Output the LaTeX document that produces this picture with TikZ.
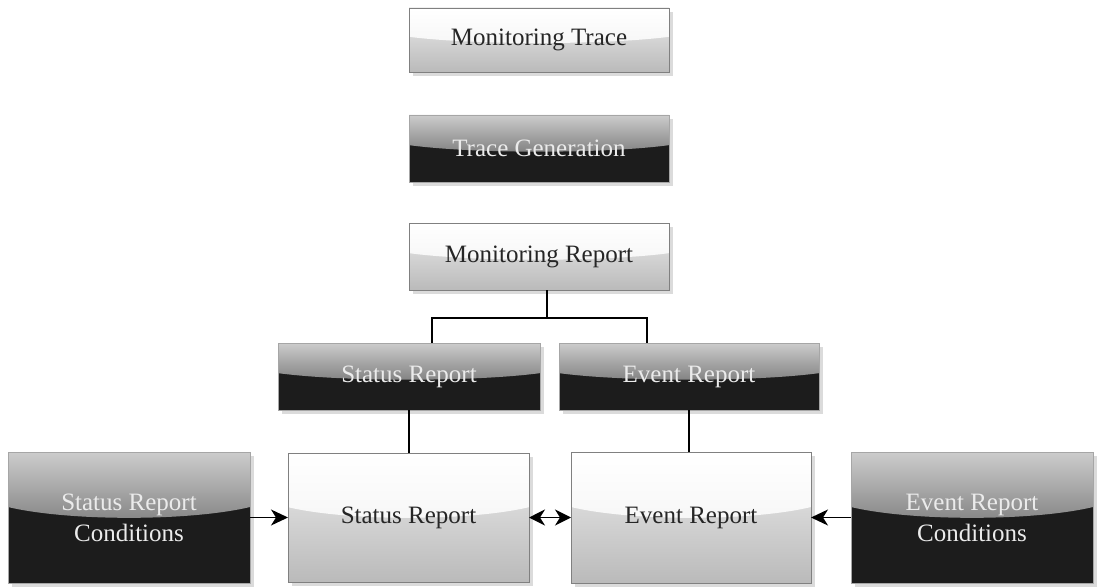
\documentclass[tikz,border=0pt]{standalone}
\usepackage{fontspec}
\setmainfont{Liberation Serif}
\usetikzlibrary{shadows,calc,arrows.meta}
\begin{document}
\begin{tikzpicture}[x=1pt,y=-1pt,
  box/.style={rectangle, inner sep=2pt, outer sep=0pt, line width=0.8pt, align=center,
    font=\fontsize{25}{31}\selectfont,
    drop shadow={shadow xshift=4pt, shadow yshift=-4pt, fill=black!14, opacity=1}},
  lightbox/.style 2 args={box, draw=black!50, text=black!85, top color=black!7, bottom color=black!27,
    path picture={\shade[top color=white, bottom color=black!6]
      (path picture bounding box.north west) -- (path picture bounding box.north east)
      -- ($(path picture bounding box.north east)!#1!(path picture bounding box.south east)$)
      .. controls ($($(path picture bounding box.north east)!#2!(path picture bounding box.south east)$)!0.25!($(path picture bounding box.north west)!#2!(path picture bounding box.south west)$)$)
      and ($($(path picture bounding box.north east)!#2!(path picture bounding box.south east)$)!0.75!($(path picture bounding box.north west)!#2!(path picture bounding box.south west)$)$)
      .. ($(path picture bounding box.north west)!#1!(path picture bounding box.south west)$) -- cycle;}},
  darkbox/.style 2 args={box, draw=black!35, text=black!8, fill=black!89,
    path picture={\shade[top color=black!20, bottom color=black!72]
      (path picture bounding box.north west) -- (path picture bounding box.north east)
      -- ($(path picture bounding box.north east)!#1!(path picture bounding box.south east)$)
      .. controls ($($(path picture bounding box.north east)!#2!(path picture bounding box.south east)$)!0.25!($(path picture bounding box.north west)!#2!(path picture bounding box.south west)$)$)
      and ($($(path picture bounding box.north east)!#2!(path picture bounding box.south east)$)!0.75!($(path picture bounding box.north west)!#2!(path picture bounding box.south west)$)$)
      .. ($(path picture bounding box.north west)!#1!(path picture bounding box.south west)$) -- cycle;}},
  conn/.style={line width=1.2pt, draw=black},
  arr/.style={line width=1.5pt, draw=black, -{Stealth[length=17pt,width=16pt,inset=5pt]}},
  darr/.style={line width=1.5pt, draw=black, {Stealth[length=16pt,width=16pt,inset=5pt]}-{Stealth[length=16pt,width=16pt,inset=5pt]}}
]
\useasboundingbox (0,0) rectangle (1097,588);

\node[lightbox={0.45}{0.58}, minimum width=260pt, minimum height=64pt] (MT) at (539,40) {Monitoring Trace};
\node[darkbox={0.45}{0.58}, minimum width=260pt, minimum height=67pt] (TG) at (539,148.5) {Trace Generation};
\node[lightbox={0.45}{0.58}, minimum width=260pt, minimum height=67pt] (MR) at (539,256.5) {Monitoring Report};

\node[darkbox={0.45}{0.58}, minimum width=262pt, minimum height=67pt] (SR) at (409,376.5) {Status Report};
\node[darkbox={0.45}{0.58}, minimum width=260pt, minimum height=67pt] (ER) at (689,376.5) {Event Report};

\node[lightbox={0.42}{0.53}, minimum width=241pt, minimum height=129pt] (SRB) at (408.5,517.5) {Status Report};
\node[lightbox={0.42}{0.53}, minimum width=240pt, minimum height=131pt] (ERB) at (691,517.5) {Event Report};

\node[darkbox={0.42}{0.53}, minimum width=242pt, minimum height=131pt] (SRC) at (129,517.5) {Status Report\\Conditions};
\node[darkbox={0.42}{0.53}, minimum width=242pt, minimum height=131pt] (ERC) at (972,517.5) {Event Report\\Conditions};

\coordinate (jm) at (547,318);
\coordinate (jl) at (432,318);
\coordinate (jr) at (647,318);

\draw[conn] (MR.south -| jm) -- (jm);
\draw[conn] (jl |- SR.north) -- (jl) -- (jr) -- (jr |- ER.north);
\draw[conn] (SR.south) -- (SR.south |- SRB.north);
\draw[conn] (ER.south) -- (ER.south |- ERB.north);

\draw[arr] (SRC.east) -- (SRB.west);
\draw[arr] (ERC.west) -- (ERB.east);
\draw[darr] (SRB.east) -- (ERB.west);
\end{tikzpicture}
\end{document}
